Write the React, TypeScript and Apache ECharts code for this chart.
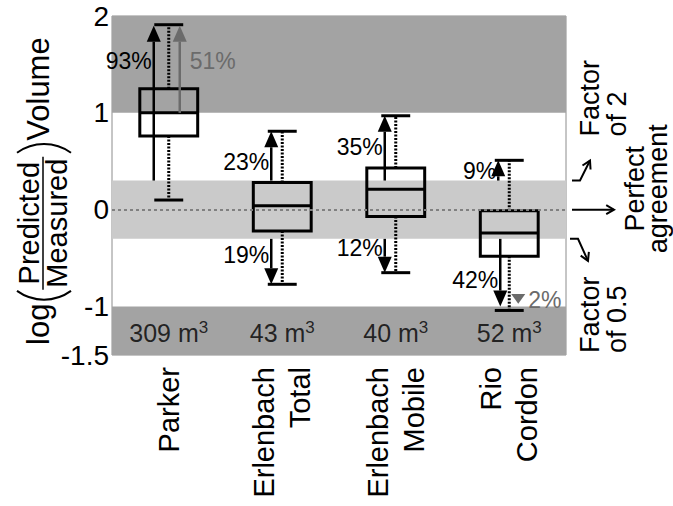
import React, { useEffect, useRef } from 'react';
import * as echarts from 'echarts';

const FONT = '"Liberation Sans", Arial, Helvetica, sans-serif';

// ---- data ----
const categories = ['Parker', 'Erlenbach\nTotal', 'Erlenbach\nMobile', 'Rio\nCordon'];
const volumes = ['309', '43', '40', '52'];
const whiskerLow = [0.1, -0.77, -0.65, -1.04];
const q1 = [0.76, -0.22, -0.07, -0.48];
const medians = [1.0, 0.04, 0.21, -0.24];
const q3 = [1.25, 0.28, 0.43, -0.01];
const whiskerHigh = [1.91, 0.81, 0.97, 0.51];

const yTickLabels = [-1.5, -1, 0, 1, 2];
const factor2 = 0.301; // log10(2)
const factor10 = 1; // log10(10)

const arrowCategory = [0, 0, 1, 1, 2, 2, 3, 3, 3];
const arrowFrom = [0.301, 1.0, 0.301, -0.301, 0.301, -0.301, 0.301, -0.301, -0.87];
const arrowTo = [1.9, 1.9, 0.81, -0.77, 0.97, -0.65, 0.51, -1.0, -0.97];
const arrowPercent = ['93%', '51%', '23%', '19%', '35%', '12%', '9%', '42%', '2%'];
const arrowLabelAt = [1.54, 1.54, 0.49, -0.47, 0.65, -0.4, 0.4, -0.73, -0.93];
const arrowIsGray = [0, 1, 0, 0, 0, 0, 0, 0, 1];

// ---- layout (pixels) ----
const arrowDx = [-15, 11, -11, -11, -11, -11, -11, -9, 9];
const GRID = { left: 112, right: 107, top: 16, bottom: 151 };

function chevron(tx: number, ty: number, dx: number, dy: number, len = 9) {
  const n = Math.hypot(dx, dy);
  const ux = dx / n, uy = dy / n;
  const a = Math.PI / 6;
  const r = (ang: number) => [
    tx - len * (ux * Math.cos(ang) - uy * Math.sin(ang)),
    ty - len * (ux * Math.sin(ang) + uy * Math.cos(ang)),
  ];
  return [r(a), [tx, ty], r(-a)];
}

export default function App() {
  const ref = useRef<HTMLDivElement>(null);
  useEffect(() => {
    if (!ref.current) return;
    const chart = echarts.init(ref.current, undefined, { renderer: 'svg' });

    const boxData = categories.map((_, i) => [i, whiskerLow[i], q1[i], medians[i], q3[i], whiskerHigh[i]]);
    const arrowData = arrowCategory.map((c, i) => [c, arrowFrom[i], arrowTo[i], arrowLabelAt[i], arrowIsGray[i]]);

    const option: any = {
      animation: false,
      grid: { ...GRID, show: true, borderColor: '#8c8c8c', borderWidth: 1, backgroundColor: 'transparent' },
      xAxis: {
        type: 'category',
        data: categories,
        boundaryGap: true,
        axisLine: { show: false },
        axisTick: { show: false },
        splitLine: { show: false },
        axisLabel: {
          rotate: 90,
          interval: 0,
          fontSize: 29,
          lineHeight: 36,
          margin: 12,
          color: '#000',
          fontFamily: FONT,
        },
      },
      yAxis: {
        type: 'value',
        min: -1.5,
        max: 2,
        interval: 0.5,
        splitLine: { show: false },
        axisLine: { show: false },
        axisTick: { show: false },
        axisLabel: {
          fontSize: 28,
          color: '#000',
          margin: 3,
          fontFamily: FONT,
          formatter: (v: number) => (yTickLabels.some((t) => Math.abs(t - v) < 1e-9) ? String(v) : ''),
        },
      },
      series: [
        {
          type: 'scatter',
          z: 1,
          data: categories.map((_, i) => [i, -1.27]),
          symbolSize: 1,
          itemStyle: { color: 'rgba(0,0,0,0)' },
          silent: true,
          label: {
            show: true,
            position: 'inside',
            formatter: (p: any) => `{n|${volumes[p.dataIndex]} m}{s|3}`,
            rich: {
              n: { fontSize: 25, color: '#000', fontFamily: FONT, lineHeight: 28 },
              s: { fontSize: 17, color: '#000', fontFamily: FONT, verticalAlign: 'top', lineHeight: 16 },
            },
          },
          markArea: {
            silent: true,
            data: [
              [{ yAxis: factor10, itemStyle: { color: '#a3a3a3' } }, { yAxis: 2 }],
              [{ yAxis: -1.5, itemStyle: { color: '#a3a3a3' } }, { yAxis: -factor10 }],
              [{ yAxis: -factor2, itemStyle: { color: '#cacaca' } }, { yAxis: factor2 }],
            ],
          },
          markLine: {
            silent: true,
            symbol: 'none',
            label: { show: false },
            lineStyle: { color: '#808080', type: [3, 3], width: 2 },
            data: [{ yAxis: 0 }],
          },
        },
        {
          type: 'custom',
          z: 3,
          data: boxData,
          encode: { x: 0, y: [1, 2, 3, 4, 5] },
          renderItem: (params: any, api: any) => {
            const c = api.value(0);
            const lo = api.coord([c, api.value(1)]);
            const b1 = api.coord([c, api.value(2)]);
            const md = api.coord([c, api.value(3)]);
            const b3 = api.coord([c, api.value(4)]);
            const hi = api.coord([c, api.value(5)]);
            const band = api.size([1, 0])[0];
            const w = band * 0.51;
            const cw = w * 0.5;
            const x = lo[0];
            const dotted = { stroke: '#000', lineWidth: 3, lineDash: [2, 1.5] };
            const solid = { stroke: '#000', lineWidth: 3 };
            return {
              type: 'group',
              children: [
                { type: 'line', shape: { x1: x, y1: b3[1], x2: x, y2: hi[1] }, style: dotted },
                { type: 'line', shape: { x1: x, y1: b1[1], x2: x, y2: lo[1] }, style: dotted },
                { type: 'line', shape: { x1: x - cw / 2, y1: hi[1], x2: x + cw / 2, y2: hi[1] }, style: solid },
                { type: 'line', shape: { x1: x - cw / 2, y1: lo[1], x2: x + cw / 2, y2: lo[1] }, style: solid },
                {
                  type: 'rect',
                  shape: { x: x - w / 2, y: b3[1], width: w, height: b1[1] - b3[1] },
                  style: { fill: 'none', stroke: '#000', lineWidth: 3 },
                },
                { type: 'line', shape: { x1: x - w / 2, y1: md[1], x2: x + w / 2, y2: md[1] }, style: solid },
              ],
            };
          },
        },
        {
          type: 'custom',
          z: 4,
          data: arrowData,
          encode: { x: 0, y: [1, 2] },
          renderItem: (params: any, api: any) => {
            const i = params.dataIndex;
            const c = api.value(0);
            const p0 = api.coord([c, api.value(1)]);
            const p1 = api.coord([c, api.value(2)]);
            const pl = api.coord([c, api.value(3)]);
            const gray = api.value(4) === 1;
            const color = gray ? '#6b6b6b' : '#000';
            const x = p0[0] + arrowDx[i];
            const y0 = p0[1];
            const y1 = p1[1];
            const dir = y1 < y0 ? -1 : 1;
            const len = Math.abs(y1 - y0);
            const head = Math.min(16, len);
            const hw = 7;
            const base = y1 - dir * head;
            const children: any[] = [];
            if (len > head) {
              children.push({ type: 'line', shape: { x1: x, y1: y0, x2: x, y2: base }, style: { stroke: color, lineWidth: 2.5 } });
            }
            children.push({
              type: 'polygon',
              shape: { points: [[x, y1], [x - hw, base], [x + hw, base]] },
              style: { fill: color },
            });
            children.push({
              type: 'text',
              x: gray ? x + 10 : x - 2,
              y: pl[1],
              style: {
                text: arrowPercent[i],
                align: gray ? 'left' : 'right',
                verticalAlign: 'middle',
                fontSize: 23,
                fill: color,
                fontFamily: FONT,
              },
            });
            return { type: 'group', children };
          },
        },
      ],
    };

    chart.setOption(option);

    const yP = (v: number) => chart.convertToPixel({ yAxisIndex: 0 }, v) as number;
    const yUp = yP(factor2);
    const yZero = yP(0);
    const yDown = yP(-factor2);
    const yBottom = yP(-1.5);

    const txt = (text: string, x: number, y: number, size: number, align: string) => ({
      type: 'text',
      x,
      y,
      rotation: Math.PI / 2,
      style: { text, fontSize: size, fill: '#000', fontFamily: FONT, align, verticalAlign: 'middle' },
    });
    const stroke = { stroke: '#000', lineWidth: 2, fill: 'none' };

    // y-axis title (rotated group)
    const mainF = 31;
    const fracF = 29;
    const logW = 1.334 * mainF;
    const fracStart = logW + 16;
    const fracW = 4.446 * fracF;
    const fracEnd = fracStart + fracW;
    const volStart = fracEnd + 18;
    const parenR = 46;
    const parenA = Math.asin(27 / parenR);
    const sag = parenR * (1 - Math.cos(parenA));
    const tStyle = (text: string, f: number, align: string) => ({
      text,
      fontSize: f,
      fill: '#000',
      fontFamily: FONT,
      align,
      verticalAlign: 'middle',
    });
    const titleGroup = {
      type: 'group',
      x: 42,
      y: 345,
      rotation: Math.PI / 2,
      children: [
        { type: 'text', x: 0, y: -4, style: tStyle('log', mainF, 'left') },
        {
          type: 'arc',
          shape: { cx: logW + 4 + parenR, cy: 2, r: parenR, startAngle: Math.PI - parenA, endAngle: Math.PI + parenA, clockwise: true },
          style: stroke,
        },
        { type: 'text', x: (fracStart + fracEnd) / 2, y: -13, style: tStyle('Predicted', fracF, 'center') },
        { type: 'line', shape: { x1: fracStart - 2, y1: 1, x2: fracEnd + 2, y2: 1 }, style: { stroke: '#000', lineWidth: 1.5 } },
        { type: 'text', x: (fracStart + fracEnd) / 2, y: 15, style: tStyle('Measured', fracF, 'center') },
        {
          type: 'arc',
          shape: { cx: fracEnd + 6 + sag - parenR, cy: 2, r: parenR, startAngle: -parenA, endAngle: parenA, clockwise: true },
          style: stroke,
        },
        { type: 'text', x: volStart, y: -4, style: tStyle('Volume', mainF, 'left') },
      ],
    };

    chart.setOption({
      graphic: [
        titleGroup,
        // factor of 2 hook arrow
        { type: 'polyline', shape: { points: [[572, yUp], [580, yUp], [590, yUp - 20]] }, style: stroke },
        { type: 'polyline', shape: { points: chevron(590, yUp - 20, 10, -20) }, style: stroke },
        txt('Factor', 590, yUp - 44, 27, 'left'),
        txt('of 2', 617, yUp - 44, 27, 'left'),
        // perfect agreement arrow
        { type: 'polyline', shape: { points: [[572, yZero], [614, yZero]] }, style: stroke },
        { type: 'polyline', shape: { points: chevron(614, yZero, 1, 0) }, style: stroke },
        txt('Perfect', 635, yZero - 21, 27, 'center'),
        txt('agreement', 658, yZero - 21, 27, 'center'),
        // factor of 0.5 hook arrow
        { type: 'polyline', shape: { points: [[570, yDown], [578, yDown], [588, yDown + 22]] }, style: stroke },
        { type: 'polyline', shape: { points: chevron(588, yDown + 22, 10, 22) }, style: stroke },
        txt('Factor', 590, yBottom - 2, 27, 'left'),
        txt('of 0.5', 617, yBottom - 2, 27, 'left'),
      ],
    });

    return () => chart.dispose();
  }, []);

  return <div ref={ref} style={{ position: 'fixed', left: 0, top: 0, width: 673, height: 506, background: '#fff' }} />;
}
